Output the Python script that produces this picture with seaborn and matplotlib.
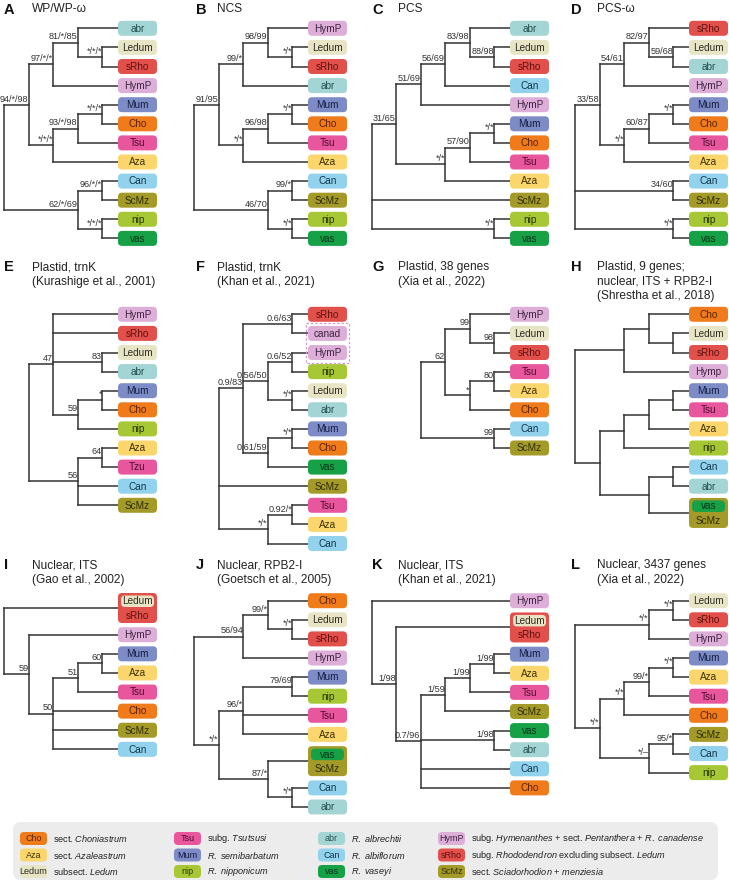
import matplotlib
matplotlib.use('Agg')
import matplotlib.pyplot as plt
from matplotlib.patches import FancyBboxPatch, Rectangle
import seaborn as sns

# ---- tree topologies (Newick, support values as node names, ":n" = drawn level) ----
tree_A = "((((abr,(Ledum,sRho)*/*/*)81/*/85,HymP)97/*/*,(((Mum,Cho)*/*/*,Tsu)93/*/98,Aza)*/*/*)94/*/98,((Can,ScMz)96/*/*,(nip,vas)*/*/*)62/*/69)"
tree_B = "((((HymP,(Ledum,sRho)*/*)98/99,abr)99/*,(((Mum,Cho)*/*,Tsu)96/98,Aza)*/*)91/95,((Can,ScMz)99/*,(nip,vas)*/*)46/70)"
tree_C = "(((((abr,(Ledum,sRho)88/98)83/98,Can)56/69,HymP)51/69,(((Mum,Cho)*/*,Tsu)57/90,Aza)*/*)31/65,ScMz,(nip,vas)*/*)"
tree_D = "((((sRho,(Ledum,abr)59/68)82/97,HymP)54/61,(((Mum,Cho)*/*,Tsu)60/87,Aza)*/*)33/58,(Can,ScMz)34/60,(nip,vas)*/*)"
tree_E = "((HymP,sRho,(Ledum,abr)83,((Mum,Cho)*,nip)59)47,((Aza,Tzu)64,Can,ScMz)56)"
tree_F = "(((sRho,canad)0.6/63,((HymP,nip)0.6/52,(Ledum,abr)*/*)0.56/50,((Mum,Cho)*/*,vas)0.61/59)0.9/83,ScMz,((Tsu,Aza)0.92/*,Can)*/*)"
tree_G = "(((HymP,(Ledum,sRho)98)99,((Tsu,Aza)80,Cho)*)62,(Can,ScMz)99)"
tree_H = "(((Cho,(Ledum,sRho)),Hymp),((((Mum,Tsu),Aza),nip),((Can,abr),vas|ScMz)))"
tree_I = "(Ledum|sRho,(HymP,(((Mum,Aza)60,Tsu)51,Cho,ScMz,Can)50)59)"
tree_J = "(((Cho,(Ledum,sRho)*/*)99/*,HymP)56/94,(((Mum,nip)79/69,Tsu,Aza)96/*:3,(vas|ScMz,(Can,abr)*/*)87/*)*/*)"
tree_K = "(HymP,(Ledum|sRho,((((Mum,Aza)1/99,Tsu)1/99,ScMz)1/59,(vas,abr)1/98,Can,Cho)0.7/96)1/98)"
tree_L = "(((Ledum,sRho)*/*,HymP)*/*,((((Mum,Aza)*/*,Tsu)99/*,Cho)*/*,((ScMz,Can)95/*,nip)*/\u2013)*/*)"

panel_trees = [tree_A, tree_B, tree_C, tree_D, tree_E, tree_F,
               tree_G, tree_H, tree_I, tree_J, tree_K, tree_L]
panel_letters = list("ABCDEFGHIJKL")
panel_titles = [
    ["WP/WP-\u03c9"], ["NCS"], ["PCS"], ["PCS-\u03c9"],
    ["Plastid, trnK", "(Kurashige et al., 2001)"],
    ["Plastid, trnK", "(Khan et al., 2021)"],
    ["Plastid, 38 genes", "(Xia et al., 2022)"],
    ["Plastid, 9 genes;", "nuclear, ITS + RPB2-I", "(Shrestha et al., 2018)"],
    ["Nuclear, ITS", "(Gao et al., 2002)"],
    ["Nuclear, RPB2-I", "(Goetsch et al., 2005)"],
    ["Nuclear, ITS", "(Khan et al., 2021)"],
    ["Nuclear, 3437 genes", "(Xia et al., 2022)"],
]
dashed_tips_F = ["canad", "HymP"]

# clade colours: fill, text
clade_fill = {'abr': '#a3d5d4', 'Ledum': '#e8e5c6', 'sRho': '#e2504b', 'HymP': '#dcaed8',
              'Mum': '#7d8cc6', 'Cho': '#ef7b1b', 'Tsu': '#e8579d', 'Aza': '#fbd66d',
              'Can': '#93d2ed', 'ScMz': '#a49a28', 'nip': '#a7c834', 'vas': '#16a147'}
clade_text = {'abr': '#24504f', 'Ledum': '#2c2b20', 'sRho': '#5e120f', 'HymP': '#3d2340',
              'Mum': '#141c40', 'Cho': '#5a2300', 'Tsu': '#4d0c2c', 'Aza': '#3d3000',
              'Can': '#10374a', 'ScMz': '#2e2b05', 'nip': '#253300', 'vas': '#04331a'}
alias = {'Hymp': 'HymP', 'canad': 'HymP', 'Tzu': 'Tsu'}

legend_codes = ['Cho', 'Aza', 'Ledum', 'Tsu', 'Mum', 'nip',
                'abr', 'Can', 'vas', 'HymP', 'sRho', 'ScMz']
legend_texts = [
    r'sect. $\mathit{Choniastrum}$', r'sect. $\mathit{Azaleastrum}$', r'subsect. $\mathit{Ledum}$',
    r'subg. $\mathit{Tsutsusi}$', r'$\mathit{R.\ semibarbatum}$', r'$\mathit{R.\ nipponicum}$',
    r'$\mathit{R.\ albrechtii}$', r'$\mathit{R.\ albiflorum}$', r'$\mathit{R.\ vaseyi}$',
    r'subg. $\mathit{Hymenanthes}$ + sect. $\mathit{Pentanthera}$ + $\mathit{R.\ canadense}$',
    r'subg. $\mathit{Rhododendron}$ excluding subsect. $\mathit{Ledum}$',
    r'sect. $\mathit{Sciadorhodion}$ + $\mathit{menziesia}$',
]

# ---- layout constants (pixels) ----
STEP = 24.5
TIP_GAP = 19.1
BOX_W, BOX_H = 39, 15
col_box_left = [118, 308, 510, 689]
col_letter_x = [4, 196, 372, 571]
col_title_x = [32, 217, 398, 597]
row_title_y = [9.5, 267, 565]
panel_y0 = [28.3, 28.3, 28.3, 28.3, 314.3, 314.3, 314.3, 314.3, 608, 600.7, 600.7, 600.7]
LINE = '#333333'
BOX_FS = 7.2
SUP_FS = 6.6

sns.set_theme(style='white')
plt.rcParams['font.family'] = ['Liberation Sans', 'DejaVu Sans']
plt.rcParams['mathtext.fontset'] = 'custom'
plt.rcParams['mathtext.rm'] = 'Liberation Sans'
plt.rcParams['mathtext.it'] = 'Liberation Sans:italic'


def parse_newick(s):
    pos = 0

    def read():
        nonlocal pos
        kids = []
        if s[pos] == '(':
            pos += 1
            kids.append(read())
            while s[pos] == ',':
                pos += 1
                kids.append(read())
            pos += 1
        start = pos
        while pos < len(s) and s[pos] not in ',()':
            pos += 1
        name, _, lev = s[start:pos].partition(':')
        return {'name': name, 'kids': kids, 'lev': int(lev) if lev else None}

    return read()


def tips_of(nd):
    if not nd['kids']:
        return [nd]
    out = []
    for k in nd['kids']:
        out += tips_of(k)
    return out


def place(nd):
    if not nd['kids']:
        nd['h'] = 0
        return
    for k in nd['kids']:
        place(k)
    nd['h'] = nd['lev'] if nd['lev'] else max(k['h'] for k in nd['kids']) + 1
    nd['y'] = (nd['kids'][0]['y'] + nd['kids'][-1]['y']) / 2


def node_x(h, left):
    if h == 0:
        return left + 2
    return left - 15.5 - (h - 1) * STEP


def draw_box(ax, name, x, y):
    if '|' in name:
        inner, outer = name.split('|')
        ax.add_patch(FancyBboxPatch((x, y - 15), BOX_W, 30, boxstyle='round,pad=0,rounding_size=4',
                                    fc=clade_fill[outer], ec='none', zorder=3))
        ax.add_patch(FancyBboxPatch((x + 3, y - 12.5), BOX_W - 6, 11.5, boxstyle='round,pad=0,rounding_size=4',
                                    fc=clade_fill[inner], ec='none', zorder=4))
        ax.text(x + BOX_W / 2, y - 6.6, inner, ha='center', va='center', fontsize=BOX_FS,
                color=clade_text[inner], zorder=5)
        ax.text(x + BOX_W / 2, y + 7.8, outer, ha='center', va='center', fontsize=BOX_FS,
                color=clade_text[outer], zorder=5)
        return
    key = alias.get(name, name)
    ax.add_patch(FancyBboxPatch((x, y - BOX_H / 2), BOX_W, BOX_H, boxstyle='round,pad=0,rounding_size=4',
                                fc=clade_fill[key], ec='none', zorder=3))
    ax.text(x + BOX_W / 2, y + 0.3, name, ha='center', va='center', fontsize=BOX_FS,
            color=clade_text[key], zorder=5)


def draw_node(ax, nd, left, is_root=False):
    if not nd['kids']:
        draw_box(ax, nd['name'], left, nd['y'])
        return
    x = node_x(nd['h'], left)
    kids = nd['kids']
    ax.plot([x, x], [kids[0]['y'], kids[-1]['y']], color=LINE, lw=1.1,
            solid_capstyle='projecting', zorder=2)
    for k in kids:
        ax.plot([x, node_x(k['h'], left)], [k['y'], k['y']], color=LINE, lw=1.1,
                solid_capstyle='projecting', zorder=2)
        draw_node(ax, k, left)
    if not is_root and nd['name']:
        ax.text(x - 0.5, nd['y'] - 1.2, nd['name'], ha='right', va='bottom',
                fontsize=SUP_FS, color='#333333', zorder=4)


fig = plt.figure(figsize=(7.29, 8.85), dpi=100)
ax = fig.add_axes([0, 0, 1, 1])
ax.set_xlim(0, 729)
ax.set_ylim(885, 0)
ax.axis('off')

for i, tree in enumerate(panel_trees):
    col, row = i % 4, i // 4
    left = col_box_left[col]
    root = parse_newick(tree)
    tips = tips_of(root)
    # tip positions: grouped boxes take more room
    y = panel_y0[i]
    prev_w = None
    for t in tips:
        w = 1.8 if '|' in t['name'] else 1.0
        if prev_w is not None:
            y += (prev_w + w) / 2 * TIP_GAP
        t['y'] = y
        prev_w = w
    place(root)
    draw_node(ax, root, left, is_root=True)

    if panel_letters[i] == 'F':
        ys = [t['y'] for t in tips if t['name'] in dashed_tips_F]
        ax.add_patch(Rectangle((left - 2, min(ys) - 10), BOX_W + 4, max(ys) - min(ys) + 20,
                               fill=False, ec='#d49ad2', lw=0.9, ls=(0, (2, 1.5)), zorder=6))

    # titles
    ty = row_title_y[row]
    ax.text(col_letter_x[col], ty, panel_letters[i], fontsize=10.5, fontweight='bold',
            ha='left', va='center', color='#111111')
    for j, line in enumerate(panel_titles[i]):
        ax.text(col_title_x[col], ty + j * 14.6, line, fontsize=8.6, ha='left', va='center',
                color='#222222')

# ---- legend ----
ax.add_patch(FancyBboxPatch((13, 822), 705, 58, boxstyle='round,pad=0,rounding_size=8',
                            fc='#ececec', ec='none', zorder=1))
leg_col_x = [20, 174, 318, 438]
leg_row_y = [838.5, 855, 871.5]
for k, code in enumerate(legend_codes):
    c, r = k // 3, k % 3
    bx, by = leg_col_x[c], leg_row_y[r]
    ax.add_patch(FancyBboxPatch((bx, by - 6.5), 27, 13, boxstyle='round,pad=0,rounding_size=4',
                                fc=clade_fill[code], ec='none', zorder=3))
    ax.text(bx + 13.5, by + 0.3, code, ha='center', va='center', fontsize=6.5,
            color=clade_text[code], zorder=4)
    ax.text(bx + 33, by + 0.3, legend_texts[k], ha='left', va='center', fontsize=6.6,
            color='#222222', zorder=4)

fig.savefig('out.png', dpi=100)
